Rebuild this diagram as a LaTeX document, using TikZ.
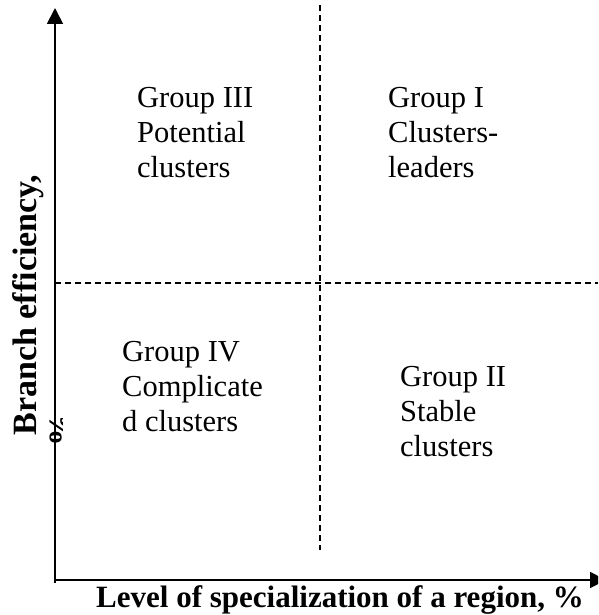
\documentclass[tikz,border=0pt]{standalone}
\usepackage{fontspec}
\setmainfont{Liberation Serif}
\usetikzlibrary{arrows.meta}
\begin{document}
\begin{tikzpicture}[x=1pt,y=-1pt,
  axis/.style={line width=1.8pt,-{Triangle[length=16pt,width=16pt]}},
  divider/.style={line width=1.2pt,dash pattern=on 6pt off 4pt},
  grouptext/.style={anchor=north west,align=left,inner sep=0pt,
    font=\fontsize{30.5}{35}\selectfont},
  axislabel/.style={inner sep=0pt,font=\fontsize{31}{34}\selectfont\bfseries},
  ylabel/.style={axislabel,rotate=90,font=\fontsize{34}{38}\selectfont\bfseries}]
  \useasboundingbox (0,0) rectangle (598,615);
  \clip (0,0) rectangle (598,615);
  % corner points
  \coordinate (o) at (55,580);
  \coordinate (ytop) at (55,8);
  \coordinate (xend) at (606,580);
  \coordinate (vtop) at (320,5);
  \coordinate (vbot) at (320,550);
  \coordinate (hleft) at (55,283);
  \coordinate (hright) at (598,283);
  % quadrant dividers
  \draw[divider] (vtop) -- (vbot);
  \draw[divider] (hleft) -- (hright);
  % vertical axis label; its percent sign is cut off at the axis
  \node[ylabel] (ylab) at (28,305) {Branch efficiency,};
  \begin{scope}
    \clip (46,418) rectangle (62,447);
    \node[ylabel] (pct) at (61,429) {\%};
  \end{scope}
  % axes
  \draw[axis] (55,583) -- (ytop);
  \draw[axis] (o) -- (xend);
  \node[axislabel] (xlab) at (340,600) {Level of specialization of a region, \%};
  % groups
  \node[grouptext] (g3) at (137,87) {Group III\\Potential\\clusters};
  \node[grouptext] (g1) at (388,87) {Group I\\Clusters-\\leaders};
  \node[grouptext] (g4) at (122,341) {Group IV\\Complicate\\d clusters};
  \node[grouptext] (g2) at (400,366) {Group II\\Stable\\clusters};
\end{tikzpicture}
\end{document}
